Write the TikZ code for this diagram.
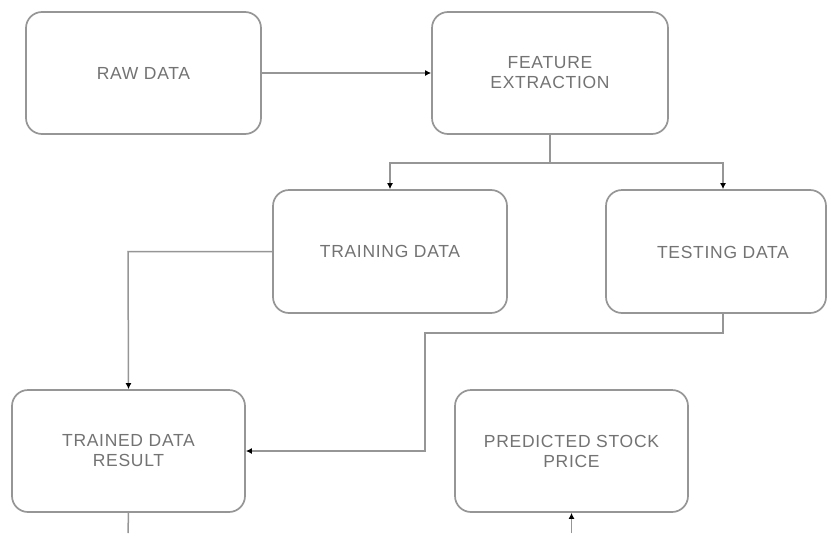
\documentclass[tikz,border=0pt]{standalone}
\usepackage{fontspec}
\setmainfont{Liberation Sans}[LetterSpace=4]
\usetikzlibrary{arrows.meta}
\definecolor{boxline}{RGB}{150,150,150}
\definecolor{conn}{RGB}{150,150,150}
\definecolor{txt}{RGB}{115,115,115}
\begin{document}
\begin{tikzpicture}[x=1pt,y=-1pt,
  box/.style={draw=boxline,line width=1.7pt,rounded corners=16pt,fill=white,
    inner sep=0pt,align=center,text=txt,
    font=\fontsize{17.5}{20}\selectfont},
  lbl/.style={text=txt,inner sep=0pt,align=center,font=\fontsize{17.5}{20}\selectfont},
  link/.style={draw=conn,line width=1.5pt},
  arr/.style={link,-{Latex[length=6pt,width=6pt,color=black]}}]
\useasboundingbox (0,0) rectangle (827,533);
% boxes
\node[box,minimum width=235pt,minimum height=122pt] (raw) at (143.5,73) {RAW DATA};
\node[box,minimum width=236pt,minimum height=122pt] (fe) at (550,73) {FEATURE\\EXTRACTION};
\node[box,minimum width=234pt,minimum height=123pt] (train) at (390,251.5) {TRAINING DATA};
\node[box,minimum width=220pt,minimum height=123pt] (test) at (716,251.5) {};
\node[lbl] (testtxt) at (723,252) {TESTING DATA};
\node[box,minimum width=233pt,minimum height=122pt] (trained) at (128.5,451) {TRAINED DATA\\RESULT};
\node[box,minimum width=233pt,minimum height=122pt] (pred) at (571.5,451) {PREDICTED STOCK\\PRICE};
% helper coordinates
\coordinate (split) at (550,163);
\coordinate (j1) at (425,333);
\coordinate (trainbend) at (128,251.5);
\coordinate (endA) at (128,533);
\coordinate (endB) at (571.5,533);
% connectors
\draw[arr] (raw.east) -- (fe.west);
\draw[link] (fe.south) -- (split);
\draw[arr] (split) -| (train.north);
\draw[arr] (split) -| (testtxt |- test.north);
\draw[arr] (train.west) -- (trainbend) -- (trained.north);
\draw[arr] (testtxt |- test.south) |- (j1) |- (trained.east);
\draw[link] (trained.south) -- (endA);
\draw[arr] (endB) -- (pred.south);
\end{tikzpicture}
\end{document}
